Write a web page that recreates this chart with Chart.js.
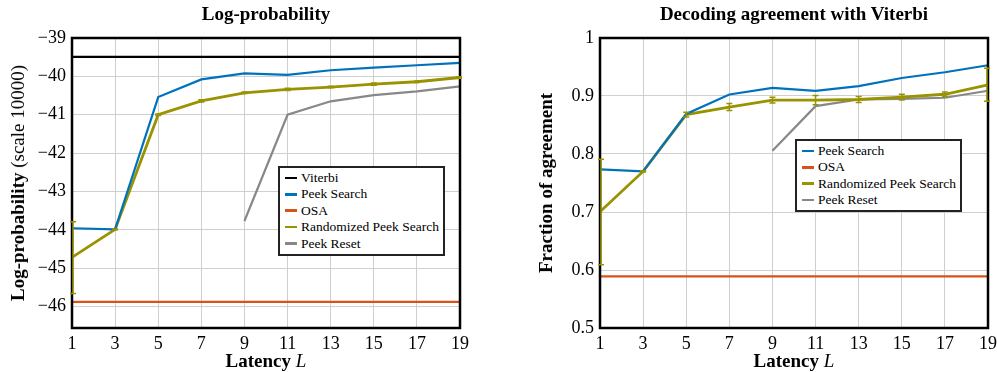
<!DOCTYPE html>
<html>
<head>
<meta charset="utf-8">
<script src="https://cdn.jsdelivr.net/npm/chart.js@4"></script>
<style>
  html, body { margin: 0; padding: 0; background: #fff; overflow: hidden; }
  body { width: 997px; height: 372px; position: relative; font-family: "Liberation Serif", serif; }
  .box { position: absolute; }
  .title { position: absolute; font-weight: bold; font-size: 19px; text-align: center; white-space: nowrap; }
  .xt { position: absolute; font-size: 19px; font-weight: bold; white-space: nowrap; transform: translateX(-50%); }
  .xt i { font-weight: normal; }
  .yt { position: absolute; font-size: 19px; white-space: nowrap; transform: translate(-50%, -50%) rotate(-90deg); }
  .yt b { font-weight: bold; }
  .legend { position: absolute; border: 2.5px solid #222; background: #fff; box-sizing: border-box; padding: 2px 6px 0 5px; font-size: 13.5px; }
  .legend div { height: 16.4px; line-height: 16.4px; white-space: nowrap; }
  .legend span.sw { display: inline-block; width: 12px; height: 2.5px; vertical-align: middle; margin-right: 4px; position: relative; top: -1px; }
</style>
</head>
<body>

<div class="box" style="left:0;top:0;width:480px;height:372px"><canvas id="logChart"></canvas></div>
<div class="box" style="left:520px;top:0;width:487px;height:372px"><canvas id="agreeChart"></canvas></div>

<div class="title" style="left:266px;top:3px;transform:translateX(-50%)">Log-probability</div>
<div class="title" style="left:794px;top:3px;transform:translateX(-50%)">Decoding agreement with Viterbi</div>

<div class="xt" style="left:266px;top:350px">Latency <i>L</i></div>
<div class="xt" style="left:794px;top:350px">Latency <i>L</i></div>

<div class="yt" style="left:18px;top:183px"><b>Log-probability</b> (scale 10000)</div>
<div class="yt" style="left:546px;top:183px"><b>Fraction of agreement</b></div>

<div class="legend" style="left:278px;top:166px;width:167px;height:90px">
  <div><span class="sw" style="background:#000"></span>Viterbi</div>
  <div><span class="sw" style="background:#0072BD"></span>Peek Search</div>
  <div><span class="sw" style="background:#D95319"></span>OSA</div>
  <div><span class="sw" style="background:#9A9300"></span>Randomized Peek Search</div>
  <div><span class="sw" style="background:#888"></span>Peek Reset</div>
</div>

<div class="legend" style="left:795px;top:139px;width:167px;height:73px">
  <div><span class="sw" style="background:#0072BD"></span>Peek Search</div>
  <div><span class="sw" style="background:#D95319"></span>OSA</div>
  <div><span class="sw" style="background:#9A9300"></span>Randomized Peek Search</div>
  <div><span class="sw" style="background:#888"></span>Peek Reset</div>
</div>

<script>
// latency values on the x axis
const latency = ["1", "3", "5", "7", "9", "11", "13", "15", "17", "19"];

// log-probability (scale 10000)
const logViterbi = [-39.49, -39.49, -39.49, -39.49, -39.49, -39.49, -39.49, -39.49, -39.49, -39.49];
const logPeek = [-43.96, -43.99, -40.54, -40.08, -39.92, -39.96, -39.84, -39.77, -39.71, -39.65];
const logOsa = [-45.88, -45.88, -45.88, -45.88, -45.88, -45.88, -45.88, -45.88, -45.88, -45.88];
const logRand = [-44.72, -43.99, -41.0, -40.64, -40.43, -40.34, -40.28, -40.2, -40.14, -40.03];
const logRandLo = [-45.66, -44.0, -41.02, -40.67, -40.45, -40.37, -40.3, -40.23, -40.16, -40.05];
const logRandHi = [-43.79, -43.98, -40.98, -40.61, -40.41, -40.31, -40.26, -40.17, -40.12, -40.01];
const logReset = [null, null, null, null, -43.77, -41.0, -40.65, -40.49, -40.39, -40.26];
const logTicks = [-46, -45, -44, -43, -42, -41, -40, -39];

// fraction of decoding agreement with Viterbi
const agrPeek = [0.7735, 0.770, 0.869, 0.9026, 0.914, 0.909, 0.917, 0.931, 0.941, 0.953];
const agrOsa = [0.589, 0.589, 0.589, 0.589, 0.589, 0.589, 0.589, 0.589, 0.589, 0.589];
const agrRand = [0.7005, 0.770, 0.868, 0.881, 0.893, 0.893, 0.894, 0.898, 0.903, 0.919];
const agrRandLo = [0.609, 0.769, 0.864, 0.875, 0.888, 0.885, 0.889, 0.893, 0.899, 0.891];
const agrRandHi = [0.791, 0.771, 0.872, 0.887, 0.898, 0.901, 0.899, 0.903, 0.907, 0.948];
const agrReset = [null, null, null, null, 0.8055, 0.8825, 0.894, 0.895, 0.897, 0.909];
const agrTicks = [0.5, 0.6, 0.7, 0.8, 0.9, 1];

const OLIVE = "#9A9300";
const SERIF = "'Liberation Serif', serif";

// draws the black frame round the plot area, then the olive error bars on top
const extras = {
    id: "extras",
    afterDatasetsDraw(chart, args, opts) {
        const ctx = chart.ctx;
        const xs = chart.scales.x;
        const ys = chart.scales.y;
        const a = chart.chartArea;
        ctx.save();
        ctx.strokeStyle = "#000";
        ctx.lineWidth = 2.5;
        ctx.strokeRect(a.left, a.top, a.right - a.left, a.bottom - a.top);

        ctx.strokeStyle = OLIVE;
        ctx.lineWidth = 1.5;
        opts.lo.forEach((lo, i) => {
            let x = xs.getPixelForValue(i);
            if (i === 0) x += 1;
            if (i === opts.lo.length - 1) x -= 1;
            const y1 = ys.getPixelForValue(lo);
            const y2 = ys.getPixelForValue(opts.hi[i]);
            ctx.beginPath();
            ctx.moveTo(x, y1); ctx.lineTo(x, y2);
            ctx.moveTo(x - 3, y1); ctx.lineTo(x + 3, y1);
            ctx.moveTo(x - 3, y2); ctx.lineTo(x + 3, y2);
            ctx.stroke();
        });
        ctx.restore();
    }
};

function line(data, color, width) {
    return {
        data: data,
        borderColor: color,
        backgroundColor: color,
        borderWidth: width,
        pointRadius: 0,
        tension: 0,
        spanGaps: false
    };
}

function makeChart(id, datasets, yOpts, errLo, errHi, pad, yWidth) {
    return new Chart(document.getElementById(id).getContext("2d"), {
        type: "line",
        data: { labels: latency, datasets: datasets },
        plugins: [extras],
        options: {
            responsive: false,
            animation: false,
            layout: { padding: pad },
            plugins: {
                legend: { display: false },
                tooltip: { enabled: false },
                extras: { lo: errLo, hi: errHi }
            },
            scales: {
                x: {
                    offset: false,
                    grid: { color: "#cfcfcf", lineWidth: 1, drawTicks: false },
                    border: { display: false },
                    ticks: { color: "#000", padding: 5, maxRotation: 0, font: { family: SERIF, size: 18 } },
                    afterFit: (s) => { s.height = 44; }
                },
                y: Object.assign({
                    grid: { color: "#cfcfcf", lineWidth: 1, drawTicks: false },
                    border: { display: false },
                    afterFit: (s) => { s.width = yWidth; }
                }, yOpts)
            }
        }
    });
}

function sizeCanvas(id, w, h) {
    const c = document.getElementById(id);
    c.width = w; c.height = h;
    c.style.width = w + "px"; c.style.height = h + "px";
}

sizeCanvas("logChart", 480, 372);
sizeCanvas("agreeChart", 487, 372);

makeChart("logChart", [
    line(logViterbi, "#000", 2.2),
    line(logPeek, "#0072BD", 2.2),
    line(logOsa, "#D95319", 2.2),
    line(logRand, OLIVE, 2.8),
    line(logReset, "#888", 2.2)
], {
    min: -46.56,
    max: -39,
    afterBuildTicks: (s) => { s.ticks = logTicks.map(v => ({ value: v })); },
    ticks: {
        color: "#000", padding: 6, font: { family: SERIF, size: 18 },
        callback: (v) => "\u2212" + Math.abs(v)
    }
}, logRandLo, logRandHi, { top: 38, right: 20, left: 0, bottom: 0 }, 72);

makeChart("agreeChart", [
    line(agrPeek, "#0072BD", 2.2),
    line(agrOsa, "#D95319", 2.2),
    line(agrRand, OLIVE, 2.8),
    line(agrReset, "#888", 2.2)
], {
    min: 0.5,
    max: 1,
    afterBuildTicks: (s) => { s.ticks = agrTicks.map(v => ({ value: v })); },
    ticks: {
        color: "#000", padding: 6, font: { family: SERIF, size: 18 },
        callback: (v) => (v === 1 ? "1" : v.toFixed(1))
    }
}, agrRandLo, agrRandHi, { top: 38, right: 19, left: 0, bottom: 0 }, 80);
</script>
</body>
</html>
